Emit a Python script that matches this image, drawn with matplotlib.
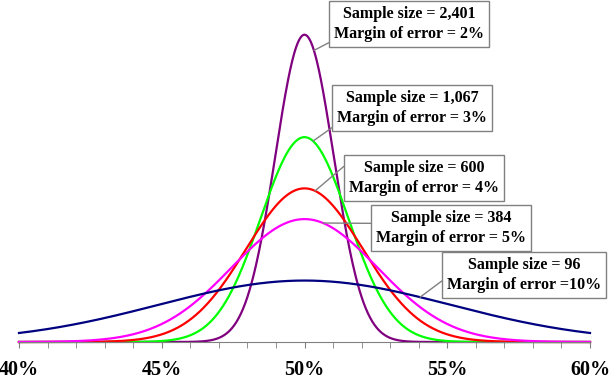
import numpy as np
from matplotlib import pyplot as plt

# sample sizes and margins of error (in %) for each curve
sample_size = ["2,401", "1,067", "600", "384", "96"]
margin = [2, 3, 4, 5, 10]
colors = ["#800080", "#00ff00", "#ff0000", "#ff00ff", "#000080"]
mean = 50
tick_labels = ["40%", "45%", "50%", "55%", "60%"]

# where each leader line meets its curve (x in %)
point_x = [50.33, 50.3, 50.37, 50.65, 54.05]

plt.rcParams['font.family'] = ['Liberation Serif', 'DejaVu Serif']

fig = plt.figure(figsize=(6.1, 3.84), dpi=100)
ax = fig.add_axes([19/610, 42/384, 571/610, 312/384])

x = np.linspace(40, 60, 801)
def pdf(xv, m):
    sd = m / 1.96
    return np.exp(-0.5 * ((xv - mean) / sd) ** 2) / (sd * np.sqrt(2 * np.pi))

for m, c in zip(margin, colors):
    ax.plot(x, pdf(x, m), color=c, lw=1.6, clip_on=False)

ax.set_xlim(40, 60)
ax.set_ylim(0, 0.397)
for s in ["top", "right", "left"]:
    ax.spines[s].set_visible(False)
ax.spines["bottom"].set_color("#808080")
ax.set_yticks([])
ax.set_xticks(np.arange(40, 61, 5))
ax.set_xticks(np.arange(40, 61, 1), minor=True)
ax.set_xticklabels(tick_labels, fontsize=14.5, fontweight="bold")
ax.tick_params(axis="x", which="both", direction="out", length=4, color="#808080", pad=9)

# text boxes: centre in figure pixels, and where the leader leaves the box
box_xy = [(409, 360), (412, 276), (424, 206), (451, 156), (524, 109)]
relpos = [(0, 0.05), (0, 0.05), (0, 0.95), (0, 0.63), (0, 0.44)]
spacer = [" ", " ", " ", " ", ""]
for i in range(len(margin)):
    txt = "Sample size = {0}\nMargin of error ={1}{2}%".format(sample_size[i], spacer[i], margin[i])
    ax.annotate(txt, xy=(point_x[i], pdf(point_x[i], margin[i])), xycoords="data",
                xytext=box_xy[i], textcoords="figure pixels",
                ha="center", va="center", fontsize=11.5, fontweight="bold", linespacing=1.3,
                bbox=dict(boxstyle="square,pad=0.3", fc="white", ec="#808080", lw=1),
                arrowprops=dict(arrowstyle="-", color="#808080", lw=1, relpos=relpos[i],
                                shrinkA=0, shrinkB=0))

fig.savefig("out.png")
